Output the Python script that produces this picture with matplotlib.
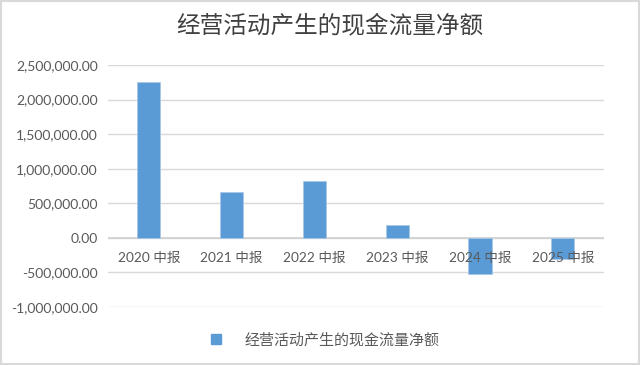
import matplotlib
matplotlib.use("Agg")
import matplotlib.pyplot as plt
from matplotlib.ticker import FuncFormatter, MultipleLocator
from matplotlib.patches import Rectangle
from matplotlib.lines import Line2D

plt.rcParams['font.family'] = ['Lato', 'Noto Sans CJK SC', 'DejaVu Sans']

categories = ["2020 中报", "2021 中报", "2022 中报", "2023 中报", "2024 中报", "2025 中报"]
values = [2260000, 665000, 825000, 183000, -520000, -303000]
series_name = "经营活动产生的现金流量净额"
title = "经营活动产生的现金流量净额"

fig = plt.figure(figsize=(6.4, 3.65), dpi=100)
ax = fig.add_axes([0.168, 0.159, 0.776, 0.663])

color = "#5b9bd5"
x = list(range(len(categories)))
ax.bar(x, values, width=0.28, color=color, edgecolor="#a9c8e8", linewidth=0.6, zorder=3)

ax.set_ylim(-1000000, 2500000)
ax.set_xlim(-0.5, len(categories) - 0.5)
ax.yaxis.set_major_locator(MultipleLocator(500000))
ax.yaxis.set_major_formatter(FuncFormatter(lambda v, p: f"{v:,.2f}"))
ax.grid(axis='y', color="#d9d9d9", linewidth=1, zorder=0)
ax.axhline(0, color="#d0d0d0", linewidth=1.2, zorder=2)
for s in ax.spines.values():
    s.set_visible(False)
ax.tick_params(axis='y', length=0, labelsize=10, labelcolor="#595959", pad=7)
ax.set_xticks([])
for i, c in enumerate(categories):
    ax.text(i, -285000, c, ha='center', va='center', fontsize=9.8, color="#595959",
            family=['Lato', 'Noto Sans CJK SC'], zorder=4)

fig.text(0.516, 0.93, title, ha='center', va='center', fontsize=17, color="#404040",
         family=['Noto Sans CJK SC'])

handle = Line2D([], [], marker='s', linestyle='none', markersize=7, color=color)
fig.legend([handle], [series_name], loc='center', bbox_to_anchor=(0.5, 0.068),
           frameon=False, prop={'family': 'Noto Sans CJK SC', 'size': 10.8},
           labelcolor="#595959", handletextpad=0.9)

fig.patches.append(Rectangle((0.002, 0.003), 0.996, 0.994, transform=fig.transFigure,
                             fill=False, edgecolor="#d9d9d9", linewidth=1.5))

fig.savefig("out.png", dpi=100, facecolor="white")
